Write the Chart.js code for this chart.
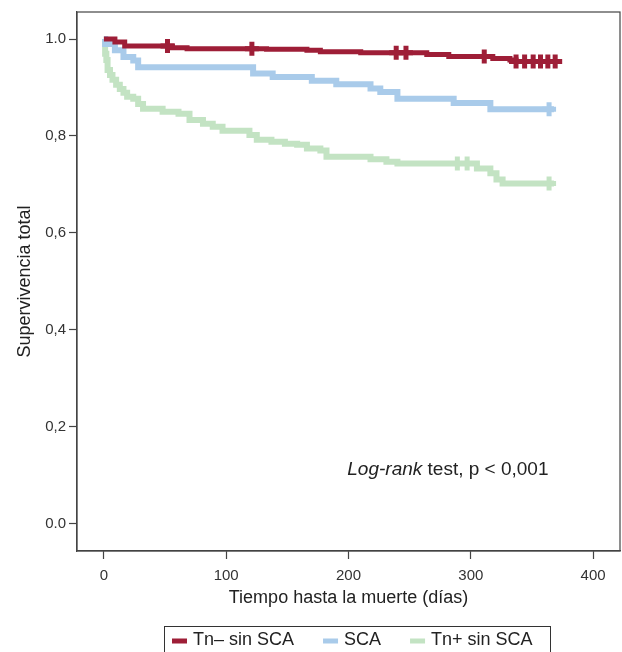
<!DOCTYPE html>
<html>
<head>
<meta charset="utf-8">
<script src="https://cdn.jsdelivr.net/npm/chart.js@4.4.1/dist/chart.umd.min.js"></script>
<style>
  html, body { margin: 0; padding: 0; background: #fff; }
  #wrap { width: 622px; height: 652px; }
</style>
</head>
<body>
<div id="wrap"><canvas id="kmChart" width="622" height="652"></canvas></div>
<script>
// Series names and colours
var seriesNames = ['Tn\u2013 sin SCA', 'SCA', 'Tn+ sin SCA'];
var seriesColors = ['#9e1e37', '#a9cbea', '#c3e3c3'];

// Tn- sin SCA: day of each step and survival after it
var tnNegDays = [0, 9, 17, 56, 68, 133, 166, 177, 210, 264, 282, 318, 332, 337, 369];
var tnNegSurv = [1.0, 0.994, 0.986, 0.982, 0.980, 0.979, 0.977, 0.974, 0.972, 0.968, 0.964, 0.960, 0.957, 0.954, 0.954];
var tnNegCensored = [52, 121, 239, 247, 311, 337, 344, 351, 357, 363, 369];

// SCA
var scaDays = [0, 1, 9, 16, 24, 28, 122, 138, 170, 190, 218, 226, 240, 286, 316, 368];
var scaSurv = [1.0, 0.990, 0.977, 0.963, 0.956, 0.942, 0.929, 0.922, 0.914, 0.907, 0.898, 0.891, 0.877, 0.868, 0.855, 0.855];
var scaCensored = [364];

// Tn+ sin SCA
var tnPosDays = [0, 1, 2, 3, 5, 7, 10, 13, 16, 19, 24, 28, 32, 48, 61, 70, 81, 89, 97, 119, 125, 137, 148, 158, 166, 177, 182, 218, 231, 240, 305, 316, 321, 326, 368];
var tnPosSurv = [1.0, 0.970, 0.957, 0.936, 0.926, 0.916, 0.906, 0.897, 0.889, 0.881, 0.877, 0.866, 0.856, 0.850, 0.846, 0.833, 0.825, 0.819, 0.811, 0.802, 0.792, 0.788, 0.784, 0.782, 0.774, 0.770, 0.757, 0.752, 0.747, 0.743, 0.733, 0.723, 0.710, 0.702, 0.702];
var tnPosCensored = [289, 297, 364];

// Axis ticks
var xTicks = [0, 100, 200, 300, 400];
var yTicks = [0, 0.2, 0.4, 0.6, 0.8, 1.0];
var yTickLabels = ['0.0', '0,2', '0,4', '0,6', '0,8', '1.0'];

var FONT = '"Liberation Sans", Arial, Helvetica, sans-serif';
var lineWidths = [5, 6, 6];

// survival value of a step curve at day t
function survAt(days, surv, t) {
  var s = surv[0];
  for (var i = 0; i < days.length; i++) {
    if (days[i] <= t) s = surv[i];
  }
  return s;
}

function stepPoints(days, surv) {
  return days.map(function(d, i) { return { x: d, y: surv[i] }; });
}

function censorPoints(days, surv, cens) {
  return cens.map(function(t) { return { x: t, y: survAt(days, surv, t) }; });
}

var curves = [
  { days: tnNegDays, surv: tnNegSurv, cens: tnNegCensored },
  { days: scaDays, surv: scaSurv, cens: scaCensored },
  { days: tnPosDays, surv: tnPosSurv, cens: tnPosCensored }
];

var datasets = [];
curves.forEach(function(c, i) {
  datasets.push({
    label: seriesNames[i],
    data: stepPoints(c.days, c.surv),
    borderColor: seriesColors[i],
    backgroundColor: seriesColors[i],
    borderWidth: lineWidths[i],
    stepped: true,
    pointRadius: 0,
    fill: false,
    order: i
  });
  datasets.push({
    label: seriesNames[i] + ' censored',
    data: censorPoints(c.days, c.surv, c.cens),
    showLine: false,
    pointStyle: 'cross',
    pointRadius: 7,
    pointBorderWidth: 5,
    pointBorderColor: seriesColors[i],
    borderColor: seriesColors[i],
    order: i,
    isCensor: true
  });
});

// full frame around the plot area
var framePlugin = {
  id: 'frame',
  afterDatasetsDraw: function(chart) {
    var a = chart.chartArea;
    var ctx = chart.ctx;
    ctx.save();
    ctx.strokeStyle = '#444';
    ctx.lineWidth = 1.2;
    ctx.strokeRect(a.left, a.top, a.right - a.left, a.bottom - a.top);
    ctx.restore();
  }
};

// log-rank note inside the plot
var notePlugin = {
  id: 'note',
  afterDraw: function(chart) {
    var ctx = chart.ctx;
    var x = chart.scales.x.getPixelForValue(199);
    var y = chart.scales.y.getPixelForValue(0.111);
    ctx.save();
    ctx.fillStyle = '#222';
    ctx.textBaseline = 'middle';
    ctx.font = 'italic 19px ' + FONT;
    ctx.fillText('Log-rank', x, y);
    var w = ctx.measureText('Log-rank').width;
    ctx.font = '19px ' + FONT;
    ctx.fillText(' test, p < 0,001', x + w, y);
    ctx.restore();
  }
};

// boxed legend under the axis title
var legendBoxPlugin = {
  id: 'legendBox',
  afterDraw: function(chart) {
    var ctx = chart.ctx;
    ctx.save();
    ctx.strokeStyle = '#333';
    ctx.lineWidth = 1;
    ctx.strokeRect(164.5, 626.5, 386, 40);
    ctx.font = '18px ' + FONT;
    ctx.textBaseline = 'middle';
    var x = 172;
    chart.data.datasets.forEach(function(ds) {
      if (ds.isCensor) return;
      ctx.fillStyle = ds.borderColor;
      ctx.fillRect(x, 638.5, 15, 5);
      ctx.fillStyle = '#222';
      ctx.fillText(ds.label, x + 21, 640);
      x += 21 + ctx.measureText(ds.label).width + 29;
    });
    ctx.restore();
  }
};

var ctx = document.getElementById('kmChart').getContext('2d');
var chartInstance = new Chart(ctx, {
  type: 'line',
  data: { datasets: datasets },
  options: {
    responsive: false,
    animation: false,
    layout: {
      autoPadding: false,
      padding: { top: 10, right: 2, bottom: 39, left: 0 }
    },
    plugins: {
      legend: { display: false },
      tooltip: { enabled: false }
    },
    scales: {
      x: {
        type: 'linear',
        min: -22,
        max: 422,
        afterBuildTicks: function(scale) {
          scale.ticks = xTicks.map(function(v) { return { value: v }; });
        },
        afterFit: function(scale) { scale.height = 62; },
        ticks: {
          font: { family: FONT, size: 15 },
          color: '#333',
          padding: 8,
          maxRotation: 0
        },
        grid: { drawOnChartArea: false, drawTicks: true, tickLength: 8, tickColor: '#444', tickWidth: 1.2 },
        border: { color: '#444', width: 1.2 },
        title: {
          display: true,
          text: 'Tiempo hasta la muerte (días)',
          font: { family: FONT, size: 18 },
          color: '#222',
          padding: { top: 0, bottom: 4 }
        }
      },
      y: {
        type: 'linear',
        min: -0.057,
        max: 1.056,
        afterBuildTicks: function(scale) {
          scale.ticks = yTicks.map(function(v) { return { value: v }; });
        },
        afterFit: function(scale) { scale.width = 77; },
        ticks: {
          font: { family: FONT, size: 15 },
          color: '#333',
          padding: 3,
          callback: function(value, index) { return yTickLabels[index]; }
        },
        grid: { drawOnChartArea: false, drawTicks: true, tickLength: 8, tickColor: '#444', tickWidth: 1.2 },
        border: { color: '#444', width: 1.2 },
        title: {
          display: true,
          text: 'Supervivencia total',
          font: { family: FONT, size: 18 },
          color: '#222',
          padding: { top: 14, bottom: 0 }
        }
      }
    }
  },
  plugins: [framePlugin, notePlugin, legendBoxPlugin]
});
</script>
</body>
</html>
